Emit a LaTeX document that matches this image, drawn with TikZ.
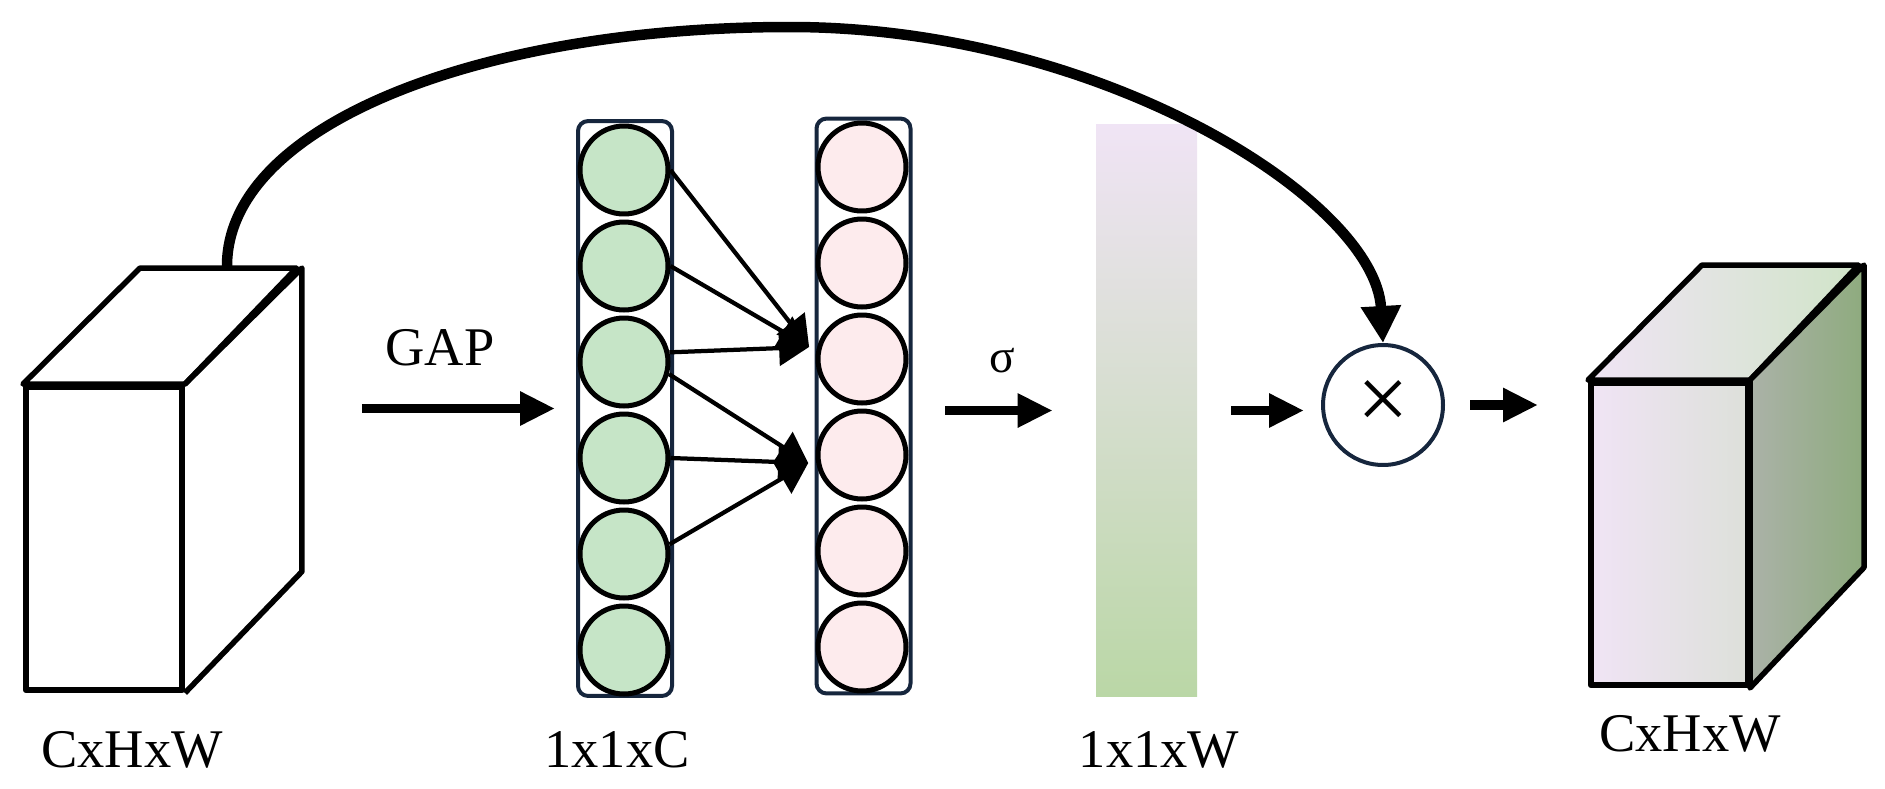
\documentclass[tikz,border=0pt]{standalone}
\usepackage{fontspec}
\setmainfont{Liberation Serif}
\usetikzlibrary{arrows.meta}
\definecolor{navy}{RGB}{22, 38, 61}
\definecolor{leafgreen}{RGB}{198, 229, 199}
\definecolor{blush}{RGB}{253, 235, 237}
\definecolor{lilac}{RGB}{240, 228, 245}
\definecolor{ash}{RGB}{224, 223, 223}
\definecolor{sage}{RGB}{186, 215, 166}
\definecolor{fog}{RGB}{221, 224, 218}
\definecolor{mint}{RGB}{208, 228, 200}
\definecolor{sidegrey}{RGB}{171, 178, 168}
\definecolor{moss}{RGB}{142, 171, 126}

\begin{document}
\begin{tikzpicture}[x=0.02cm, y=-0.02cm,
    cubeline/.style={line width=0.11cm, line join=round},
    nA/.style={draw, circle, line width=0.1cm, fill=leafgreen, minimum size=1.76cm, inner sep=0pt},
    nB/.style={nA, fill=blush},
    layer/.style={draw=navy, line width=0.08cm, rounded corners=0.2cm, minimum width=1.88cm, minimum height=11.5cm},
    link/.style={line width=0.085cm, -{Triangle[length=0.6cm, width=0.7cm]}},
    flow/.style={line width=0.19cm, -{Triangle[length=0.7cm, width=0.64cm]}},
    lbl/.style={font=\fontsize{31}{36}\selectfont}]
    \useasboundingbox (0,0) rectangle (1885,788);

    % input feature map
    \node[draw, cubeline, minimum width=3.13cm, minimum height=6.07cm, inner sep=0pt, fill=white] (cubeL) at (104,538.5) {};
    \draw[cubeline] (cubeL.north west) -- ++(117,-116) -- ++(156.5,0) -- (cubeL.north east) -- cycle;
    \draw[cubeline] (cubeL.north east) -- ++(117,-116) coordinate (cubeLbk) -- ++(0,303.5) -- (cubeL.south east);
    \node[lbl] (dimA) at (132,750) {CxHxW};

    % two layers
    \node[layer] (colA) at (625,408.5) {};
    \node[layer] (colB) at (863.5,406) {};
    \node[nA] (a1) at (624,170) {};
    \node[nA] (a2) at (624,266) {};
    \node[nA] (a3) at (624,362) {};
    \node[nA] (a4) at (624,458) {};
    \node[nA] (a5) at (624,554) {};
    \node[nA] (a6) at (624,650) {};
    \node[nB] (b1) at (862,167) {};
    \node[nB] (b2) at (862,263) {};
    \node[nB] (b3) at (862,359) {};
    \node[nB] (b4) at (862,455) {};
    \node[nB] (b5) at (862,551) {};
    \node[nB] (b6) at (862,647) {};
    \node[lbl] (dimB) at (617,750) {1x1xC};

    \draw[link] (a1.east) -- ([xshift=-0.16cm]b3.165);
    \draw[link] (a2.east) -- ([xshift=-0.16cm]b3.165);
    \draw[link] (a3.12) -- ([xshift=-0.16cm]b3.165);
    \draw[link] (a3.-15) -- ([xshift=-0.16cm]b4.190);
    \draw[link] (a4.east) -- ([xshift=-0.16cm]b4.190);
    \draw[link] (a5.12) -- ([xshift=-0.16cm]b4.190);

    \draw[flow, shorten <=1.2cm, shorten >=0.42cm] (colA.west -| cubeLbk) -- (colA.west);
    \node[lbl] (gap) at (440,348) {GAP};

    % attention weights
    \node[inner sep=0pt, minimum width=2.02cm, minimum height=11.46cm, top color=lilac, middle color=ash, bottom color=sage] (bar) at (1146.5,410.5) {};
    \node[lbl] (dimC) at (1159,750) {1x1xW};
    \draw[flow, shorten <=0.66cm, shorten >=0.86cm] (bar.west -| colB.east) -- (bar.west);
    \node[font=\fontsize{27}{30}\selectfont] (sig) at (1002,361) {σ};

    % product
    \node[draw=navy, circle, line width=0.08cm, minimum size=2.4cm, inner sep=0pt, font=\fontsize{52}{52}\selectfont] (mult) at (1383,405) {×};
    \draw[flow, shorten <=0.68cm, shorten >=0.34cm] (bar.east) -- (bar.east -| mult.west);

    % output feature map
    \node[draw, cubeline, minimum width=3.13cm, minimum height=6.05cm, inner sep=0pt, left color=lilac, middle color=ash!60!lilac, right color=fog] (cubeR) at (1669,534) {};
    \draw[cubeline, left color=lilac, middle color=ash, right color=mint] (cubeR.north west) -- ++(114,-115) -- ++(156.5,0) -- (cubeR.north east) -- cycle;
    \draw[cubeline, left color=sidegrey, right color=moss] (cubeR.north east) -- ++(114,-115) -- ++(0,302.5) -- (cubeR.south east) -- cycle;
    \node[lbl] (dimD) at (1690,734) {CxHxW};
    \draw[flow, shorten <=0.5cm, shorten >=1.0cm] (mult.east) -- (mult.east -| cubeR.west);

    % skip connection
    \coordinate (skipS) at (227,266);
    \draw[line width=0.21cm, -{Triangle[length=0.74cm, width=0.76cm]}] (skipS) .. controls (227,125) and (480,27) .. (790,27) .. controls (1100,27) and (1375,200) .. (mult.north);
\end{tikzpicture}
\end{document}
